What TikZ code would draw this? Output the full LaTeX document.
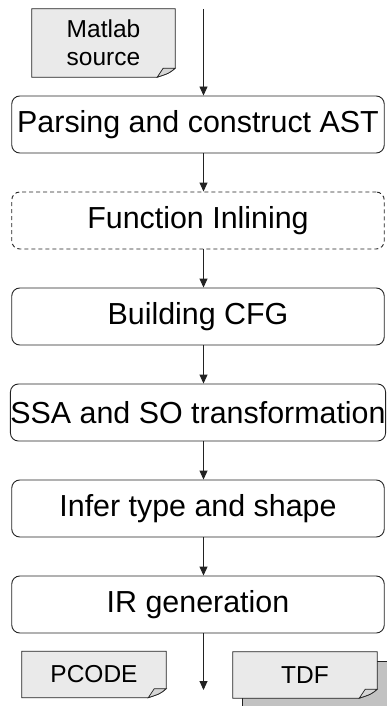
\documentclass[tikz,border=0pt]{standalone}
\usepackage{fontspec}
\setmainfont{Liberation Sans}
\usetikzlibrary{arrows.meta,calc,backgrounds}
\definecolor{docgrey}{HTML}{EAEAEA}
\definecolor{backgrey}{HTML}{C2C2C2}
\definecolor{foldgrey}{HTML}{D6D6D6}
\definecolor{edge}{HTML}{222222}
\tikzset{
  stage/.style={draw=edge, line width=0.9bp, rounded corners=8bp, minimum width=372.5bp,
    minimum height=57bp, inner xsep=0bp, inner ysep=0bp,
    font=\fontsize{30.4bp}{36bp}\selectfont},
  optstage/.style={stage, dash pattern=on 4bp off 3bp},
  docnode/.style={inner sep=0bp, align=center, minimum width=144bp, minimum height=46bp,
    font=\fontsize{24.5bp}{28bp}\selectfont},
  docline/.style={draw=edge, line width=0.8bp, fill=docgrey},
  foldline/.style={draw=edge, line width=0.7bp, fill=foldgrey},
  flow/.style={draw=edge, line width=0.9bp, -{Triangle[width=8bp,length=9bp]}}
}
\newcommand{\docshape}[1]{%
  \filldraw[docline] (#1.north west) -- (#1.north east) -- ([yshift=9bp]#1.south east)
    .. controls ([xshift=-6bp,yshift=4bp]#1.south east) .. ([xshift=-18bp]#1.south east)
    -- (#1.south west) -- cycle;
  \filldraw[foldline] ([xshift=-18bp]#1.south east)
    .. controls ([xshift=-6bp,yshift=4bp]#1.south east) .. ([yshift=9bp]#1.south east)
    -- ([xshift=-12bp,yshift=9bp]#1.south east) -- cycle;
}
\begin{document}
\begin{tikzpicture}[x=1bp,y=-1bp]
\useasboundingbox (0,0) rectangle (386,706);

% documents
\node[docnode, minimum width=143bp, minimum height=68bp] (matlab) at (103.5,43) {Matlab\\source};
\node[docnode] (pcode) at (94,674.5) {PCODE};
\node[docnode] (tdf) at (305,675) {TDF};
\begin{scope}[on background layer]
  \filldraw[docline, fill=backgrey] ($(tdf.north west)+(10,10)$) -- ($(tdf.north east)+(10,10)$)
    -- ($(tdf.south east)+(10,10)$) -- ($(tdf.south west)+(10,10)$) -- cycle;
  \docshape{matlab}
  \docshape{pcode}
  \docshape{tdf}
\end{scope}

% stages
\node[stage] (s1) at (198,124.5) {Parsing and construct AST};
\node[optstage] (s2) at (198,220.5) {Function Inlining};
\node[stage] (s3) at (198,316.5) {Building CFG};
\node[stage] (s4) at (198,412.5) {SSA and SO transformation};
\node[stage] (s5) at (198,508.5) {Infer type and shape};
\node[stage] (s6) at (198,604.5) {IR generation};

% connectors
\coordinate (in) at (203.5,9);
\coordinate (out) at (203.5,690);
\draw[flow] (in) -- (in |- s1.north);
\draw[flow] (s1.south -| in) -- (s2.north -| in);
\draw[flow] (s2.south -| in) -- (s3.north -| in);
\draw[flow] (s3.south -| in) -- (s4.north -| in);
\draw[flow] (s4.south -| in) -- (s5.north -| in);
\draw[flow] (s5.south -| in) -- (s6.north -| in);
\draw[flow] (s6.south -| in) -- (out);
\end{tikzpicture}
\end{document}
